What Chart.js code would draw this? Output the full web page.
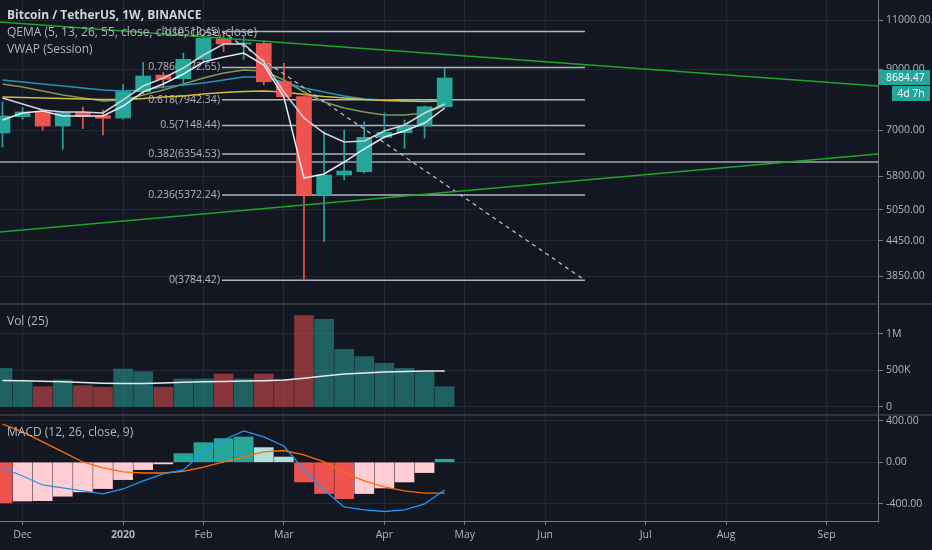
<!DOCTYPE html>
<html>
<head>
<meta charset="utf-8">
<title>BTCUSDT 1W</title>
<script src="https://cdn.jsdelivr.net/npm/chart.js@4.4.1/dist/chart.umd.min.js"></script>
<style>
  html, body { margin: 0; padding: 0; background: #131722; }
  #wrap { width: 932px; height: 550px; position: relative; }
</style>
</head>
<body>
<div id="wrap"><canvas id="btcChart"></canvas></div>
<script>
// weekly candles, Binance BTC/USDT
const weeks = ["2019-11-25", "2019-12-02", "2019-12-09", "2019-12-16", "2019-12-23", "2019-12-30",
  "2020-01-06", "2020-01-13", "2020-01-20", "2020-01-27", "2020-02-03", "2020-02-10", "2020-02-17",
  "2020-02-24", "2020-03-02", "2020-03-09", "2020-03-16", "2020-03-23", "2020-03-30", "2020-04-06",
  "2020-04-13", "2020-04-20", "2020-04-27"];
const opens  = [6930, 7410, 7560, 7130, 7540, 7440, 7370, 8210, 8790, 8660, 9380, 10200, 9990, 10010, 8560, 8043, 5380, 5830, 5910, 6807, 6937, 7131, 7719];
const highs  = [7870, 7700, 7620, 7560, 7710, 7615, 8450, 9260, 8890, 9620, 10250, 10500, 10300, 10110, 9226, 8150, 6966, 7014, 7257, 7522, 7309, 7740, 9038];
const lows   = [6540, 7330, 7010, 6480, 7060, 6875, 7330, 8120, 8330, 8480, 9250, 9680, 9380, 8440, 8000, 3784.42, 4433, 5712, 5880, 6780, 6506, 6787, 7700];
const closes = [7430, 7555, 7130, 7530, 7410, 7360, 8210, 8756, 8640, 9380, 10220, 9990, 10020, 8554, 8043, 5380, 5830, 5927, 6807, 6949, 7131, 7719, 8684.47];

// QEMA lines
const emaWhiteA = [8000, 7805, 7615, 7553, 7553, 7522, 7935, 8404, 8685, 9050, 9546, 9987, 9987, 9275, 8200, 7369, 6929, 6677, 6704, 6986, 7160, 7522, 7805];
const emaOlive  = [8473, 8370, 8234, 8100, 8000, 7902, 7935, 8100, 8268, 8473, 8685, 8866, 8975, 8939, 8614, 8200, 7869, 7678, 7553, 7461, 7461, 7522, 7741];
const emaTeal   = [8614, 8544, 8473, 8404, 8336, 8268, 8234, 8268, 8370, 8439, 8509, 8614, 8721, 8721, 8544, 8336, 8200, 8066, 7967, 7935, 7902, 7902, 7935];
const emaYellow = [8033, 8016, 8000, 7983, 7967, 7951, 7951, 7983, 8033, 8066, 8133, 8183, 8217, 8234, 8200, 8116, 8049, 8000, 7951, 7918, 7902, 7886, 7902];
const vwap      = [7309, 7522, 7584, 7430, 7430, 7430, 7741, 8200, 8473, 8829, 9275, 9468, 9624, 9162, 8033, 5759, 5855, 6150, 6488, 6816, 6986, 7219, 7678];

// volume + MA(25)
const volumes = [530000, 347000, 278000, 370000, 292000, 270000, 520000, 484000, 270000, 384000, 384000, 452000, 384000,
  452000, 370000, 1251000, 1201000, 790000, 689000, 599000, 530000, 484000, 278000];
const volMA = [363000, 360000, 352000, 345000, 336000, 325000, 320000, 320000, 330000, 338000, 345000, 350000, 355000,
  360000, 368000, 395000, 425000, 452000, 466000, 479000, 486000, 493000, 493000];

// MACD (12, 26, close, 9)
const macdLine   = [-55, -133, -220, -249, -278, -307, -259, -181, -113, -75, 100, 216, 303, 245, 158, -75, -268, -433, -462, -477, -462, -404, -268];
const signalLine = [371, 294, 197, 100, 3, -55, -94, -104, -104, -89, -46, 3, 51, 100, 114, 71, 3, -104, -181, -239, -278, -298, -298];
const macdHist   = [-394, -375, -372, -329, -287, -255, -168, -71, -16, 84, 190, 229, 245, 142, 51, -191, -303, -352, -303, -249, -191, -100, 29];

// fib retracement (drawn from the Feb high to the Mar low)
const fibRatios = ["1", "0.786", "0.618", "0.5", "0.382", "0.236", "0"];
const fibPrices = [10512.45, 9072.65, 7942.34, 7148.44, 6354.53, 5372.24, 3784.42];
const fibSpan = [10.92, 28.98];

// drawn trendlines, in week index / price
const trendX = [-0.13, 43.56];
const upperTrend = [10932, 8404];
const lowerTrend = [4613, 6356];
const supportLevel = 6150;

// axis ticks
const xRange = [-0.124, 43.56];
const monthTickPos = [1, 6, 10, 14, 19, 23, 27, 32, 36, 41];
const monthTickLabels = ["Dec", "2020", "Feb", "Mar", "Apr", "May", "Jun", "Jul", "Aug", "Sep"];
const priceTicks = [3850, 4450, 5050, 5800, 7000, 9000, 11000];
const priceRange = [3432, 11966];
const volTicks = [0, 500000, 1000000];
const volRange = [-110000, 1411000];
const macdTicks = [-400, 0, 400];
const macdRange = [-569, 458];
const barCountdown = "4d 7h";

const FONT = "'Open Sans', 'Noto Sans', sans-serif";
const UP = "#26a69a", DOWN = "#ef5350";
const GRID = "#242833", AXIS = "#787b86", TEXT = "#b2b5be";

const isUp = i => closes[i] >= opens[i];
const pts = arr => arr.map((v, i) => ({ x: i, y: v }));
const line = (label, data, color, extra) => Object.assign({
  type: "line", label, data, borderColor: color, borderWidth: 1.5,
  pointRadius: 0, tension: 0, fill: false
}, extra || {});

const datasets = [];

// candles
datasets.push({
  type: "bar", label: "wick", grouped: false, barThickness: 1, order: 5,
  data: weeks.map((w, i) => ({ x: i, y: [lows[i], highs[i]] })),
  backgroundColor: weeks.map((w, i) => isUp(i) ? UP : DOWN)
});
datasets.push({
  type: "bar", label: "body", grouped: false, barThickness: 15, minBarLength: 1, order: 4,
  data: weeks.map((w, i) => ({ x: i, y: [opens[i], closes[i]] })),
  backgroundColor: weeks.map((w, i) => isUp(i) ? UP : DOWN)
});

// moving averages
datasets.push(line("ema55", pts(emaYellow), "#d2c03c", { order: 8 }));
datasets.push(line("ema26", pts(emaTeal), "#2693b8", { order: 8 }));
datasets.push(line("ema13", pts(emaOlive), "#7d9a58", { order: 8 }));
datasets.push(line("ema5", pts(emaWhiteA), "#d1d4dc", { order: 2 }));
datasets.push(line("vwap", pts(vwap), "#e6e8ee", { order: 2 }));

// fib levels
fibPrices.forEach((p, i) => {
  datasets.push(line("fib " + fibRatios[i], [{ x: fibSpan[0], y: p }, { x: fibSpan[1], y: p }], "#b2b5be", { order: 9, borderWidth: 1.5 }));
});
datasets.push(line("fib trend", [{ x: fibSpan[0], y: fibPrices[0] }, { x: fibSpan[1], y: fibPrices[fibPrices.length - 1] }],
  "#c4c6cc", { order: 3, borderWidth: 1.2, borderDash: [4, 4] }));

// trendlines
datasets.push(line("upper trend", trendX.map((x, i) => ({ x, y: upperTrend[i] })), "#1fa52a", { order: 1 }));
datasets.push(line("lower trend", trendX.map((x, i) => ({ x, y: lowerTrend[i] })), "#1fa52a", { order: 1 }));
datasets.push(line("support", trendX.map(x => ({ x, y: supportLevel })), "#a3a6af", { order: 9 }));

// volume pane
datasets.push({
  type: "bar", label: "Vol", yAxisID: "yVol", grouped: false, barThickness: 19, order: 10,
  data: pts(volumes),
  backgroundColor: weeks.map((w, i) => isUp(i) ? "rgba(38,166,154,0.52)" : "rgba(239,83,80,0.52)")
});
datasets.push(line("Vol MA", pts(volMA), "#e6e8ee", { yAxisID: "yVol", order: 6 }));

// MACD pane
datasets.push({
  type: "bar", label: "Histogram", yAxisID: "yMacd", grouped: false, barThickness: 19, order: 10,
  data: pts(macdHist),
  backgroundColor: macdHist.map((v, i) => {
    const prev = i > 0 ? macdHist[i - 1] : v;
    if (v >= 0) return v >= prev ? "#26a69a" : "#b2dfdb";
    return v <= prev ? "#ef5350" : "#ffcdd2";
  })
});
datasets.push(line("MACD", pts(macdLine), "#2196f3", { yAxisID: "yMacd", order: 6, borderWidth: 1.3 }));
datasets.push(line("Signal", pts(signalLine), "#ff6d00", { yAxisID: "yMacd", order: 6, borderWidth: 1.3 }));

const rightAxis = (extra) => Object.assign({
  position: "right",
  stack: "panes",
  offset: false,
  grid: { color: GRID, tickLength: 5, tickColor: AXIS },
  border: { color: AXIS },
  ticks: { color: TEXT, font: { family: FONT, size: 10.5 }, padding: 3, autoSkip: false },
  afterFit: s => { s.width = 54; s.paddingTop = 0; s.paddingBottom = 0; }
}, extra);

const decor = {
  id: "decor",
  beforeDatasetsDraw(chart) {
    const { ctx, scales: { x, y } } = chart;
    ctx.save();
    ctx.font = `10.5px ${FONT}`;
    ctx.fillStyle = TEXT;
    ctx.textAlign = "right";
    ctx.textBaseline = "middle";
    fibRatios.forEach((r, i) => {
      ctx.fillText(`${r}(${fibPrices[i].toFixed(2)})`, x.getPixelForValue(fibSpan[0]) - 2, y.getPixelForValue(fibPrices[i]));
    });
    ctx.restore();
  },
  afterDraw(chart) {
    const { ctx, width, scales: { y, yVol, yMacd } } = chart;
    ctx.save();
    // pane separators
    ctx.strokeStyle = "#3c404b";
    ctx.lineWidth = 1.5;
    [yVol.top, yMacd.top].forEach(t => {
      ctx.beginPath(); ctx.moveTo(0, t); ctx.lineTo(width, t); ctx.stroke();
    });
    // legends
    ctx.textAlign = "left";
    ctx.textBaseline = "middle";
    ctx.font = `bold 12px ${FONT}`;
    ctx.fillStyle = "#d1d4dc";
    ctx.fillText("Bitcoin / TetherUS, 1W, BINANCE", 7, y.top + 16);
    ctx.font = `12px ${FONT}`;
    ctx.fillStyle = TEXT;
    ctx.fillText("QEMA (5, 13, 26, 55, close, close, close, close)", 7, y.top + 33);
    ctx.fillText("VWAP (Session)", 7, y.top + 50);
    ctx.fillText("Vol (25)", 7, yVol.top + 18);
    ctx.fillText("MACD (12, 26, close, 9)", 7, yMacd.top + 18);
    // last price tag + countdown
    const last = closes[closes.length - 1];
    const py = y.getPixelForValue(last);
    const left = y.left + 1;
    ctx.fillStyle = UP;
    ctx.fillRect(left, py - 8, width - left - 2, 15);
    ctx.fillRect(left + 13, py + 8, width - left - 15, 15);
    ctx.fillStyle = "#ffffff";
    ctx.font = `10.5px ${FONT}`;
    ctx.fillText(last.toFixed(2), left + 7, py);
    ctx.textAlign = "center";
    ctx.fillText(barCountdown, (left + 13 + width - 2) / 2, py + 15.5);
    ctx.restore();
  }
};

new Chart(document.getElementById("btcChart"), {
  type: "bar",
  data: { datasets },
  options: {
    responsive: true,
    maintainAspectRatio: false,
    animation: false,
    layout: { padding: 0 },
    plugins: { legend: { display: false }, tooltip: { enabled: false } },
    scales: {
      x: {
        type: "linear",
        min: xRange[0],
        max: xRange[1],
        offset: false,
        afterBuildTicks: s => { s.ticks = monthTickPos.map(v => ({ value: v })); },
        grid: { color: GRID, offset: false, tickLength: 4, tickColor: AXIS },
        border: { color: AXIS },
        ticks: {
          color: TEXT,
          autoSkip: false,
          maxRotation: 0,
          padding: 4,
          font: c => ({ family: FONT, size: 10.5, weight: monthTickLabels[c.index] === "2020" ? "bold" : "normal" }),
          callback: (v, i) => monthTickLabels[i]
        },
        afterFit: s => { s.height = 29; s.paddingLeft = 0; s.paddingRight = 0; }
      },
      y: rightAxis({
        type: "logarithmic",
        weight: 1,
        stackWeight: 304,
        min: priceRange[0],
        max: priceRange[1],
        afterBuildTicks: s => { s.ticks = priceTicks.map(v => ({ value: v })); },
        ticks: { color: TEXT, font: { family: FONT, size: 10.5 }, padding: 3, autoSkip: false, callback: v => Number(v).toFixed(2) }
      }),
      yVol: rightAxis({
        type: "linear",
        weight: 2,
        stackWeight: 111,
        min: volRange[0],
        max: volRange[1],
        afterBuildTicks: s => { s.ticks = volTicks.map(v => ({ value: v })); },
        ticks: {
          color: TEXT, font: { family: FONT, size: 10.5 }, padding: 3, autoSkip: false,
          callback: v => v === 0 ? "0" : (v >= 1e6 ? v / 1e6 + "M" : v / 1000 + "K")
        }
      }),
      yMacd: rightAxis({
        type: "linear",
        weight: 3,
        stackWeight: 106,
        min: macdRange[0],
        max: macdRange[1],
        afterBuildTicks: s => { s.ticks = macdTicks.map(v => ({ value: v })); },
        ticks: { color: TEXT, font: { family: FONT, size: 10.5 }, padding: 3, autoSkip: false, callback: v => Number(v).toFixed(2) }
      })
    }
  },
  plugins: [decor]
});
</script>
</body>
</html>
